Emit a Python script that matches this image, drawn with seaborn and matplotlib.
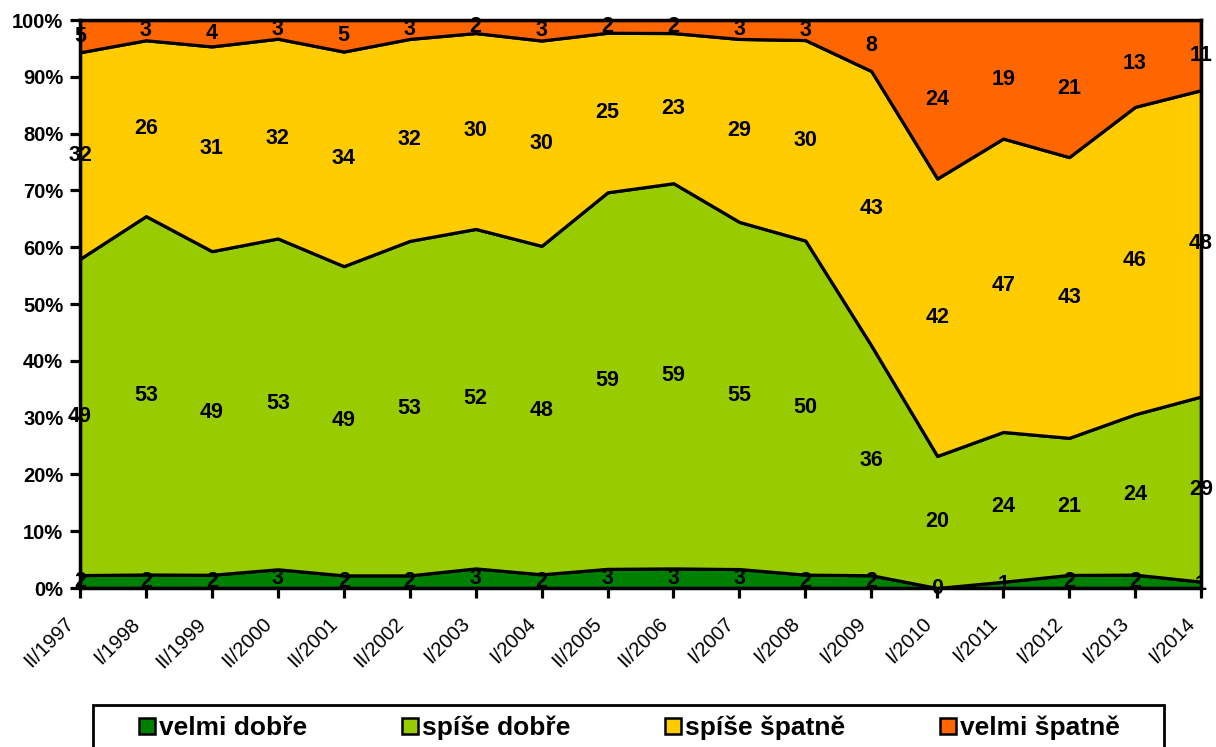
import numpy as np
import pandas as pd
import matplotlib
matplotlib.use("Agg")
import matplotlib.pyplot as plt
import matplotlib.transforms as mtransforms
import seaborn as sns
from matplotlib.patches import Patch, Rectangle

categories = ["II/1997", "I/1998", "II/1999", "II/2000", "II/2001", "II/2002",
              "I/2003", "I/2004", "II/2005", "II/2006", "I/2007", "I/2008",
              "I/2009", "I/2010", "I/2011", "I/2012", "I/2013", "I/2014"]
velmi_dobre = [2, 2, 2, 3, 2, 2, 3, 2, 3, 3, 3, 2, 2, 0, 1, 2, 2, 1]
spise_dobre = [49, 53, 49, 53, 49, 53, 52, 48, 59, 59, 55, 50, 36, 20, 24, 21, 24, 29]
spise_spatne = [32, 26, 31, 32, 34, 32, 30, 30, 25, 23, 29, 30, 43, 42, 47, 43, 46, 48]
velmi_spatne = [5, 3, 4, 3, 5, 3, 2, 3, 2, 2, 3, 3, 8, 24, 19, 21, 13, 11]
series_names = ["velmi dobře", "spíše dobře", "spíše špatně", "velmi špatně"]
colors = ["#008000", "#99CC00", "#FFCC00", "#FF6600"]

sns.set_theme(style="white")
plt.rcParams["font.family"] = ["Liberation Sans", "DejaVu Sans"]
plt.rcParams["text.color"] = "black"
plt.rcParams["xtick.color"] = "black"
plt.rcParams["ytick.color"] = "black"
plt.rcParams["xtick.labelcolor"] = "black"
plt.rcParams["ytick.labelcolor"] = "black"

df = pd.DataFrame({
    series_names[0]: velmi_dobre,
    series_names[1]: spise_dobre,
    series_names[2]: spise_spatne,
    series_names[3]: velmi_spatne,
}, index=categories)
pct = df.div(df.sum(axis=1), axis=0) * 100

W, H = 1216, 747
fig = plt.figure(figsize=(W / 100, H / 100), dpi=100)
ax = fig.add_axes([80 / W, 1 - 588 / H, (1201 - 80) / W, (588 - 20) / H])

x = np.arange(len(categories))
ax.stackplot(x, *[pct[c].values for c in series_names], colors=colors,
             edgecolor="black", linewidth=2.3)

# data labels centred in each band
cum = np.zeros(len(categories))
for name in series_names:
    vals = pct[name].values
    for i in range(len(categories)):
        ax.text(x[i], cum[i] + vals[i] / 2, str(df[name].values[i]),
                ha="center", va="center", fontsize=15.5, fontweight="bold",
                color="black", clip_on=False, zorder=5)
    cum += vals

ax.set_xlim(0, len(categories) - 1)
ax.set_ylim(0, 100)
ax.set_yticks(np.arange(0, 101, 10))
ax.set_yticklabels([f"{v}%" for v in range(0, 101, 10)], fontsize=14.5,
                   fontweight="bold", color="black")
ax.set_xticks(x)
ax.set_xticklabels(categories, rotation=45, ha="right", va="center",
                   rotation_mode="anchor", fontsize=14.5, color="black")
ax.tick_params(axis="both", which="both", direction="out", length=7, width=2.3,
               color="black", left=True, bottom=True)
ax.tick_params(axis="y", pad=5)
ax.tick_params(axis="x", pad=11)
offset = mtransforms.ScaledTranslation(-0.09, -0.08, fig.dpi_scale_trans)
for lbl in ax.get_xticklabels():
    lbl.set_transform(lbl.get_transform() + offset)
for sp in ax.spines.values():
    sp.set_visible(True)
    sp.set_color("black")
    sp.set_linewidth(2.5)
ax.grid(False)

# legend box frame
fig.patches.append(Rectangle((93 / W, -0.05), (1164 - 93) / W, 1 - 705 / H + 0.05,
                             transform=fig.transFigure, facecolor="white",
                             edgecolor="black", linewidth=2, zorder=0))

fs = 19
handles = [Patch(facecolor=c, edgecolor="black", linewidth=1.8) for c in colors]
leg = fig.legend(handles, series_names, loc="center left",
                 bbox_to_anchor=(139 / W, 1 - 728 / H),
                 ncol=4, frameon=False, borderpad=0, borderaxespad=0,
                 handlelength=0.6, handleheight=0.6, handletextpad=0.15,
                 columnspacing=3.6, prop={"size": fs, "weight": "bold"})

fig.savefig("out.png", dpi=100)
